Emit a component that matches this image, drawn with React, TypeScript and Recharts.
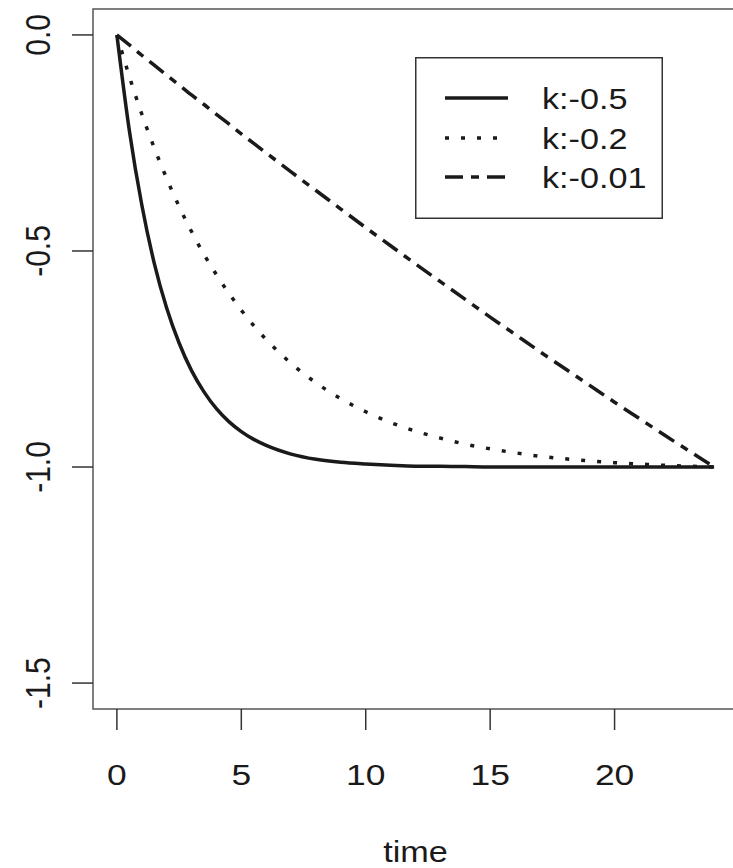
import React from "react";
import { LineChart, Line, XAxis, YAxis, ReferenceArea, Legend, Label } from "recharts";

const times = [0, 0.5, 1, 1.5, 2, 2.5, 3, 3.5, 4, 4.5, 5, 5.5, 6, 7, 8, 9, 10, 11, 12, 13, 14, 15, 16, 17, 18, 19, 20, 21, 22, 23, 24];
const kMinus05 = [0, -0.221, -0.393, -0.528, -0.632, -0.713, -0.777, -0.826, -0.865, -0.895, -0.918, -0.936, -0.95, -0.97, -0.982, -0.989, -0.993, -0.996, -0.998, -0.998, -0.999, -1, -1, -1, -1, -1, -1, -1, -1, -1, -1];
const kMinus02 = [0, -0.096, -0.183, -0.261, -0.332, -0.397, -0.455, -0.508, -0.555, -0.598, -0.637, -0.673, -0.705, -0.76, -0.805, -0.842, -0.872, -0.897, -0.917, -0.933, -0.947, -0.958, -0.967, -0.975, -0.981, -0.986, -0.99, -0.993, -0.996, -0.998, -1];
const kMinus001 = [0, -0.023, -0.047, -0.07, -0.093, -0.116, -0.139, -0.161, -0.184, -0.206, -0.229, -0.251, -0.273, -0.317, -0.36, -0.403, -0.446, -0.488, -0.53, -0.571, -0.612, -0.653, -0.693, -0.733, -0.772, -0.811, -0.85, -0.888, -0.926, -0.963, -1];
const xTicks = [0, 5, 10, 15, 20];
const yTicks = [0, -0.5, -1, -1.5];
const seriesNames = ["k:-0.5", "k:-0.2", "k:-0.01"];
const xLabel = "time";

const FONT = "'Liberation Sans', Arial, sans-serif";
const INK = "#1a1a1a";
const STRETCH = 1.18;

const series = [
  { key: "s1", name: seriesNames[0], values: kMinus05, dash: undefined as string | undefined },
  { key: "s2", name: seriesNames[1], values: kMinus02, dash: "4 12" },
  { key: "s3", name: seriesNames[2], values: kMinus001, dash: "18 8 8 8" },
];

const data = times.map((t, i) => {
  const row: Record<string, number> = { t };
  series.forEach((s) => {
    row[s.key] = s.values[i];
  });
  return row;
});

const YTick = (props: any) => {
  const { x, y, payload } = props;
  return (
    <text
      transform={`translate(${x} ${y}) scale(${STRETCH} 1) rotate(-90)`}
      textAnchor="middle"
      fontSize={30}
      fontFamily={FONT}
      fill={INK}
    >
      {Number(payload.value).toFixed(1)}
    </text>
  );
};

const XTick = (props: any) => {
  const { x, y, payload } = props;
  return (
    <text
      transform={`translate(${x} ${y}) scale(${STRETCH} 1)`}
      textAnchor="middle"
      dy="0.71em"
      fontSize={30}
      fontFamily={FONT}
      fill={INK}
    >
      {String(payload.value)}
    </text>
  );
};

const XLabel = (props: any) => {
  const vb = props.viewBox || {};
  const cx = vb.x + vb.width / 2;
  const by = vb.y + vb.height - 6;
  return (
    <text
      transform={`translate(${cx} ${by}) scale(${STRETCH} 1)`}
      textAnchor="middle"
      fontSize={29}
      fontFamily={FONT}
      fill={INK}
    >
      {xLabel}
    </text>
  );
};

const LegendBox = () => (
  <svg width={248} height={162} style={{ display: "block" }}>
    <rect x={0.75} y={0.75} width={246.5} height={160.5} fill="#fff" stroke="#333" strokeWidth={1.5} />
    {series.map((s, i) => {
      const cy = [41, 81, 120][i];
      return (
        <g key={s.key}>
          <line x1={30} x2={93} y1={cy} y2={cy} stroke={INK} strokeWidth={3.5} strokeDasharray={s.dash} />
          <text
            transform={`translate(127 ${cy}) scale(1.14 1)`}
            dy="0.36em"
            fontSize={30}
            fontFamily={FONT}
            fill={INK}
          >
            {s.name}
          </text>
        </g>
      );
    })}
  </svg>
);

export default function App() {
  return (
    <div style={{ position: "absolute", left: 0, top: 0, width: 733, height: 868, overflow: "hidden", background: "#fff" }}>
      <LineChart width={740} height={868} data={data} margin={{ top: 9, right: 2, bottom: 0, left: 0 }}>
        <XAxis
          dataKey="t"
          type="number"
          domain={[-0.96, 24.96]}
          ticks={xTicks}
          allowDataOverflow
          axisLine={false}
          tickLine={{ stroke: "#333", strokeWidth: 1.5 }}
          tickSize={21}
          tickMargin={34}
          height={159}
          tick={<XTick />}
        >
          <Label content={<XLabel />} position="insideBottom" />
        </XAxis>
        <YAxis
          type="number"
          domain={[-1.56, 0.06]}
          ticks={yTicks}
          allowDataOverflow
          axisLine={false}
          tickLine={{ stroke: "#333", strokeWidth: 1.5 }}
          tickSize={21}
          tickMargin={22}
          width={93}
          tick={<YTick />}
        />
        <ReferenceArea x1={-0.96} x2={24.96} y1={-1.56} y2={0.06} fill="none" stroke="#555" strokeWidth={1.5} ifOverflow="visible" />
        {series.map((s) => (
          <Line
            key={s.key}
            dataKey={s.key}
            name={s.name}
            type="monotone"
            stroke={INK}
            strokeWidth={3.5}
            strokeDasharray={s.dash}
            dot={false}
            activeDot={false}
            isAnimationActive={false}
          />
        ))}
        <Legend
          layout="horizontal"
          verticalAlign="middle"
          align="center"
          content={() => <LegendBox />}
          wrapperStyle={{ left: 415, top: 57, width: 248, height: 162 }}
        />
      </LineChart>
    </div>
  );
}
